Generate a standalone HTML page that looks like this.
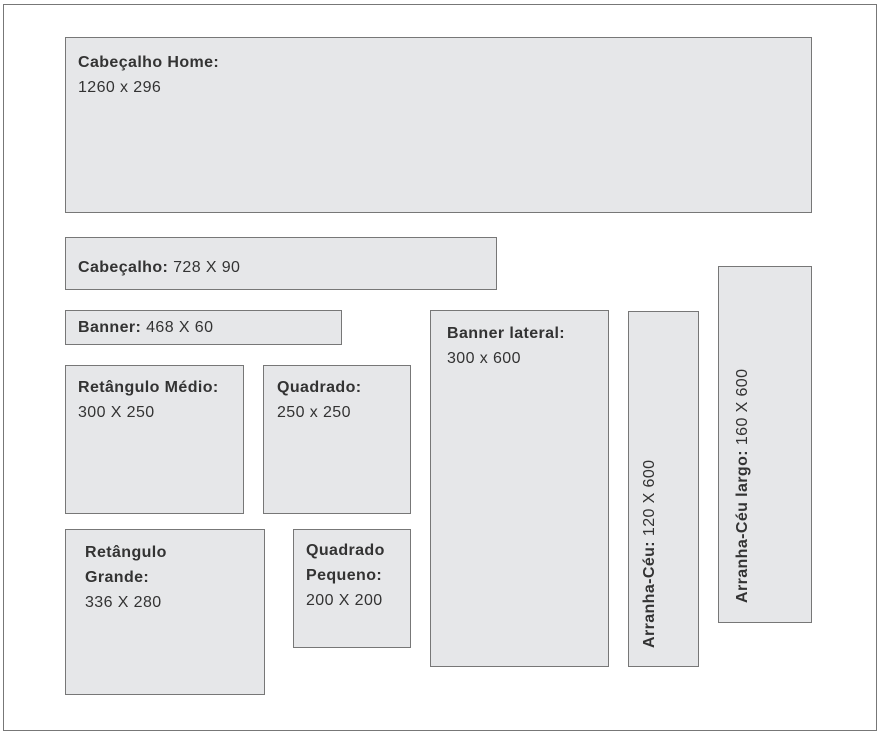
<!DOCTYPE html>
<html><head><meta charset="utf-8"><style>
body{margin:0;width:882px;height:737px;background:#fff;position:relative;font-family:"Liberation Sans",Arial,sans-serif;color:#333;font-size:16px;letter-spacing:0.4px;overflow:hidden}
.f{position:absolute;left:3px;top:4px;width:874px;height:727px;border:1px solid #777;box-sizing:border-box}
.b{position:absolute;background:#e6e7e9;border:1px solid #777;box-sizing:border-box}
.t{position:absolute;line-height:25px;white-space:nowrap}
b{font-weight:bold}
.v{position:absolute;transform:rotate(-90deg);transform-origin:0 0;white-space:nowrap;line-height:20px}
</style></head><body>
<div class="f"></div>
<div class="b" style="left:65px;top:37px;width:747px;height:176px"></div>
<div class="t" style="left:78px;top:50px"><b>Cabeçalho Home:</b><br>1260 x 296</div>
<div class="b" style="left:65px;top:237px;width:432px;height:53px"></div>
<div class="t" style="left:78px;top:255px"><b>Cabeçalho:</b> 728 X 90</div>
<div class="b" style="left:65px;top:310px;width:277px;height:35px"></div>
<div class="t" style="left:78px;top:315px"><b>Banner:</b> 468 X 60</div>
<div class="b" style="left:65px;top:365px;width:179px;height:149px"></div>
<div class="t" style="left:78px;top:375px"><b>Retângulo Médio:</b><br>300 X 250</div>
<div class="b" style="left:263px;top:365px;width:148px;height:149px"></div>
<div class="t" style="left:277px;top:375px"><b>Quadrado:</b><br>250 x 250</div>
<div class="b" style="left:65px;top:529px;width:200px;height:166px"></div>
<div class="t" style="left:85px;top:540px"><b>Retângulo<br>Grande:</b><br>336 X 280</div>
<div class="b" style="left:293px;top:529px;width:118px;height:119px"></div>
<div class="t" style="left:306px;top:538px"><b>Quadrado<br>Pequeno:</b><br>200 X 200</div>
<div class="b" style="left:430px;top:310px;width:179px;height:357px"></div>
<div class="t" style="left:447px;top:321px"><b>Banner lateral:</b><br>300 x 600</div>
<div class="b" style="left:628px;top:311px;width:71px;height:356px"></div>
<div class="v" style="left:640px;top:648px"><b>Arranha-Céu:</b> 120 X 600</div>
<div class="b" style="left:718px;top:266px;width:94px;height:357px"></div>
<div class="v" style="left:733px;top:603px"><b>Arranha-Céu largo:</b> 160 X 600</div>
</body></html>
